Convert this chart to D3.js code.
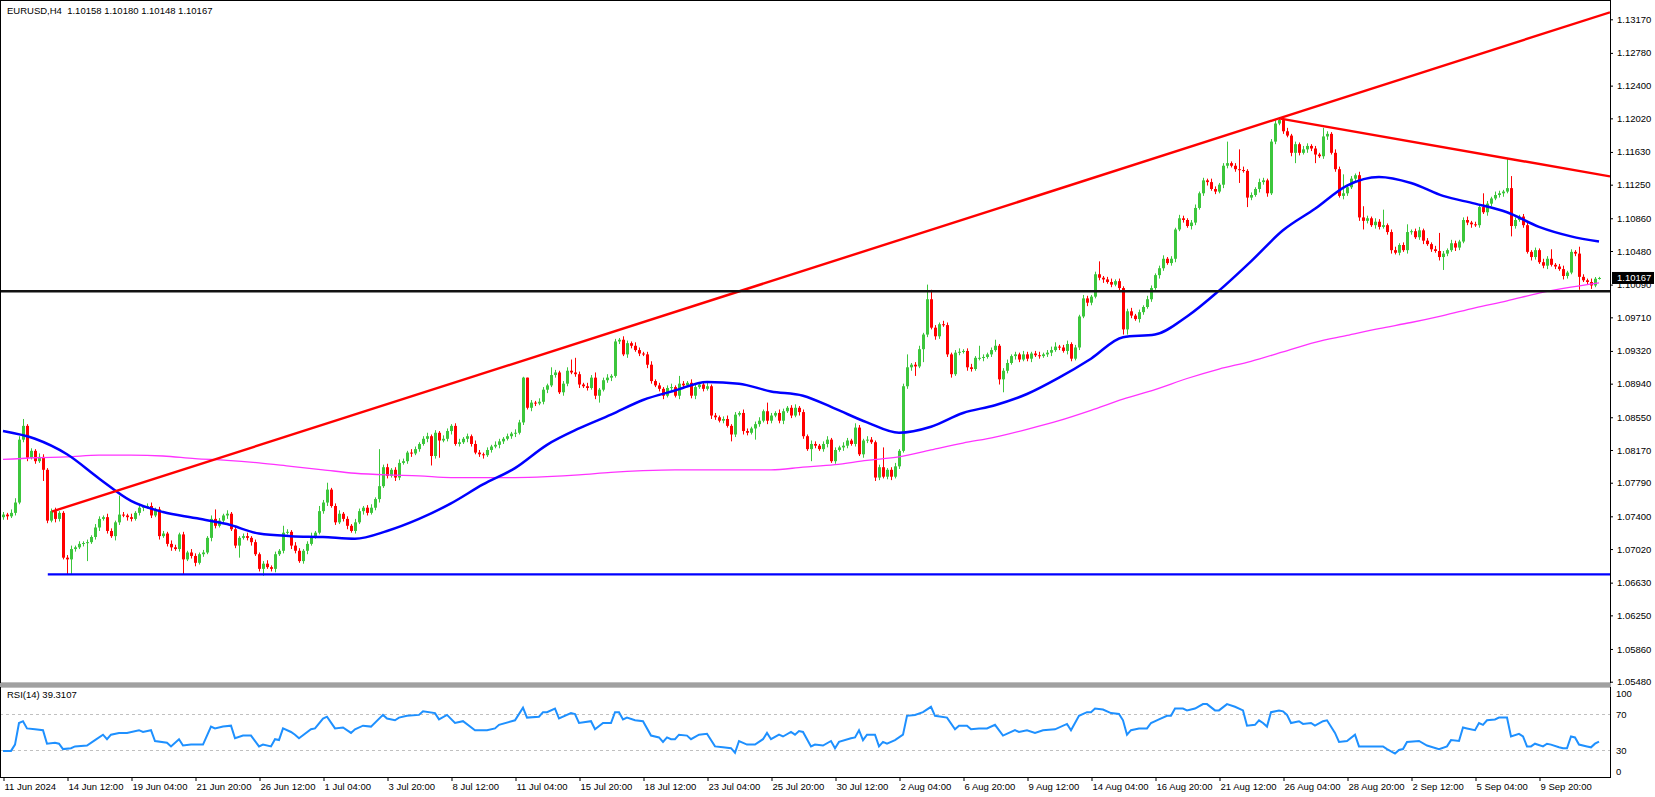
<!DOCTYPE html>
<html>
<head>
<meta charset="utf-8">
<script src="https://cdn.jsdelivr.net/npm/d3@7"></script>
<style>
body { margin: 0; background: #fff; }
svg { display: block; font-family: "Liberation Sans", Arial, sans-serif; }
</style>
</head>
<body>
<div id="chart"></div>
<script>
// EURUSD H4, 11 Jun - 12 Sep 2024. prices kept in pips above 1.0000
var title = "EURUSD,H4  1.10158 1.10180 1.10148 1.10167";
var firstOpen = 739;
var closes = [
  742,740,744,756,829,845,808,816,804,809,794,735,746,737,744,692,690,702,704,708,
  709,710,716,727,737,739,723,717,733,742,741,739,737,744,750,751,752,741,748,717,
  720,708,704,702,719,690,698,694,686,696,698,715,737,729,735,741,743,725,706,715,
  717,715,710,696,679,685,681,679,696,700,721,722,706,700,688,700,708,717,721,746,
  756,771,752,733,743,737,729,723,733,746,750,744,750,760,775,797,787,794,785,802,
  804,814,813,818,824,830,833,810,837,828,830,839,845,824,826,830,833,824,814,812,
  811,817,821,823,827,830,833,836,837,849,901,866,872,871,873,887,892,904,907,884,
  894,909,907,905,893,891,889,901,880,887,898,901,903,943,945,928,941,938,933,929,
  928,916,897,892,888,880,889,890,880,894,892,895,880,890,893,888,891,857,855,851,
  853,845,835,858,860,839,837,842,847,851,862,851,857,860,851,862,866,857,866,861,
  833,818,824,822,818,824,829,804,817,820,822,828,824,843,812,828,829,826,785,797,
  786,794,786,798,816,891,913,916,914,934,951,992,959,949,963,962,928,905,930,931,
  932,913,911,924,924,925,928,933,938,899,909,918,926,928,922,928,923,929,927,926,
  928,930,933,937,936,932,940,923,936,972,993,988,995,1021,1017,1015,1012,1009,1013,1005,
  957,978,973,969,977,983,992,1005,1020,1028,1039,1034,1039,1073,1086,1084,1077,1081,1098,1115,
  1130,1128,1120,1117,1125,1147,1150,1147,1143,1142,1141,1110,1113,1120,1128,1130,1115,1175,1196,1200,
  1187,1182,1162,1172,1162,1166,1170,1167,1160,1158,1181,1184,1162,1143,1112,1115,1122,1132,1136,1087,
  1083,1086,1078,1082,1076,1078,1070,1049,1046,1055,1049,1070,1071,1064,1072,1060,1056,1050,1048,1041,
  1045,1049,1057,1052,1059,1084,1081,1079,1078,1099,1093,1103,1109,1113,1115,1117,1121,1077,1084,1088,
  1078,1047,1041,1049,1035,1031,1039,1032,1030,1027,1019,1023,1047,1045,1018,1014,1012,1008,1015.8,1016.7
];
// upper / lower shadow length of each candle, pips
var wickUp = [
  3,2,4,5,4,8,2,3,2,4,3,2,3,4,2,2,3,4,2,3,
  2,3,2,4,3,2,4,3,2,22,3,2,4,2,3,2,3,4,2,3,
  3,2,4,3,2,3,2,4,3,2,3,2,4,11,3,2,4,2,3,2,
  3,4,2,3,2,3,4,2,3,2,8,3,2,4,3,2,3,4,2,6,
  3,8,2,3,4,2,3,2,4,3,2,3,4,2,43,3,4,2,3,4,
  3,2,4,3,2,3,4,2,3,2,4,3,2,3,4,2,3,2,4,3,
  2,3,2,4,3,2,3,2,4,3,1,0,3,2,4,3,2,9,3,2,
  3,4,13,17,3,2,4,3,6,2,3,4,2,3,2,4,3,2,4,3,
  2,3,4,2,3,2,3,4,2,9,3,2,4,3,2,3,4,2,3,2,
  3,4,2,3,2,4,3,2,3,4,2,10,3,2,4,3,2,3,4,2,
  3,2,4,3,2,3,4,2,3,2,4,3,2,5,3,2,4,3,2,3,
  23,2,3,4,2,3,15,2,3,4,2,17,11,3,2,4,3,2,3,4,
  2,3,4,2,14,3,2,3,7,2,3,4,2,3,2,4,3,2,3,4,
  2,3,4,5,2,3,4,2,3,2,4,3,2,3,15,2,3,4,2,3,
  2,3,4,2,3,2,4,3,2,3,4,2,3,2,4,3,2,3,4,2,
  3,2,4,3,2,3,25,2,3,23,4,2,3,2,4,3,2,3,4,2,
  3,4,2,3,2,4,3,2,3,2,10,3,2,4,3,22,2,3,2,4,
  13,3,2,4,3,18,2,3,4,2,3,9,2,3,4,2,3,2,4,21,
  3,2,4,3,2,3,4,2,3,2,16,3,2,4,3,2,35,14,3,2,
  3,4,2,3,2,4,3,11,2,3,4,2,3,2,8,3,2,4,2,1.3
];
var wickDn = [
  3,4,2,3,2,3,4,2,3,2,13,3,2,4,3,2,18,18,3,2,
  3,21,2,3,4,2,3,2,5,3,2,4,3,2,3,4,2,3,2,4,
  2,3,4,2,3,17,2,3,4,2,3,2,4,3,2,3,4,2,3,14,
  2,3,4,2,3,8,2,3,4,2,3,2,4,3,2,3,4,2,3,2,
  3,4,2,3,2,3,4,2,3,2,4,3,2,3,4,2,3,2,4,3,
  2,3,4,2,3,2,4,11,3,20,2,3,4,2,3,2,4,3,2,3,
  4,2,3,2,4,3,2,3,4,2,3,2,4,3,2,3,4,2,3,2,
  4,3,2,3,4,2,3,2,4,8,2,3,4,2,3,2,4,3,2,3,
  2,4,3,2,3,4,2,3,2,4,3,2,3,4,2,3,2,4,3,2,
  3,2,8,3,2,4,3,2,13,3,2,4,3,2,3,4,2,3,2,4,
  3,2,14,3,2,3,4,2,3,2,4,3,2,3,2,4,3,2,4,3,
  2,3,4,2,3,2,3,4,11,2,15,3,2,4,3,2,3,4,2,3,
  2,4,3,2,3,4,2,3,2,6,15,3,2,4,3,2,3,4,2,3,
  2,3,4,2,3,2,4,3,2,3,2,4,3,2,3,4,2,3,2,4,
  6,6,3,2,4,3,2,3,2,4,3,2,3,4,2,3,2,4,3,2,
  3,4,2,3,2,4,3,2,3,15,2,11,3,2,4,3,4,2,3,2,
  3,2,4,12,3,2,4,3,10,2,3,4,2,3,2,4,3,2,3,4,
  10,3,2,4,3,2,3,4,2,3,2,4,3,2,3,4,2,3,2,4,
  15,3,2,4,3,2,3,4,2,3,2,4,3,2,3,4,2,12,3,2,
  3,2,4,3,2,3,4,2,3,2,4,3,2,3,15,2,3,4,2,1
];

// moving averages read every 8 bars (last point = bar 399)
var maStep = 8;
var blueMA = [839,830,812,784,758,745,738,731,720,717,716,714,723,737,755,777,796,823,842,858,
  875,886,896,894,885,880,865,849,837,844,860,869,882,901,923,948,951,972,1002,1036,
  1072,1097,1124,1134,1127,1112,1103,1093,1076,1065,1059];
var pinkMA = [806,808,809,811,811,810,807,805,802,798,794,790,788,787,785,785,785,786,788,791,
  793,794,794,794,794,797,800,805,809,817,825,832,841,851,863,876,887,900,911,920,
  931,942,950,958,965,973,982,990,999,1006,1011];

// RSI(14): [bar, value]
var rsiPoints = [[0,29],[2,29],[3,36],[4,60],[5,62],[6,54],[8,53],[10,52],[11,37],[13,38],[14,37],[15,31],[17,32],[18,34],
  [21,35],[23,41],[25,47],[26,42],[27,47],[29,49],[31,49],[34,52],[35,50],[37,52],[38,40],[41,38],[42,34],[44,42],[45,35],
  [47,36],[50,36],[52,56],[53,54],[55,56],[57,57],[58,43],[60,46],[62,46],[64,34],[65,36],[67,34],[68,42],[69,41],[70,54],
  [72,50],[73,47],[74,43],[77,53],[78,54],[80,65],[81,67],[83,54],[85,55],[87,49],[88,53],[90,57],[92,56],[95,69],[96,65],
  [98,63],[99,66],[101,68],[104,69],[105,73],[108,71],[109,64],[111,69],[113,60],[115,62],[118,52],[121,52],[123,54],
  [124,58],[128,63],[130,77],[131,66],[134,67],[135,72],[136,72],[138,76],[139,65],[142,71],[143,70],[144,60],[147,62],
  [148,53],[150,60],[152,60],[153,72],[154,72],[155,64],[156,66],[158,63],[160,62],[162,46],[164,44],[165,39],[166,44],
  [167,42],[168,42],[169,47],[171,46],[172,42],[174,47],[176,48],[178,34],[180,33],[182,32],[183,27],[184,40],[186,36],
  [188,36],[190,42],[191,49],[192,42],[194,47],[195,45],[197,50],[198,47],[199,51],[200,50],[202,34],[203,36],[205,35],
  [207,40],[208,32],[209,39],[212,43],[213,44],[214,52],[215,41],[216,47],[218,47],[219,34],[220,39],[221,37],[223,41],
  [225,47],[226,68],[228,69],[230,72],[232,78],[233,68],[236,66],[238,53],[239,57],[241,57],[242,53],[244,54],[246,54],
  [248,58],[250,46],[253,52],[254,50],[256,52],[258,49],[260,52],[263,53],[266,59],[267,52],[269,68],[271,72],[272,72],
  [273,76],[275,75],[277,71],[279,70],[280,63],[281,47],[282,52],[284,54],[286,54],[287,60],[289,64],[291,68],[292,68],
  [293,76],[295,76],[296,74],[298,76],[300,81],[301,81],[303,74],[304,74],[306,81],[308,78],[310,74],[311,57],[313,58],
  [314,63],[315,60],[316,56],[317,72],[319,74],[320,73],[321,69],[322,60],[324,62],[325,59],[327,60],[328,57],[330,62],
  [331,63],[333,49],[334,39],[336,40],[338,47],[339,34],[342,34],[345,34],[346,31],[348,26],[349,30],[350,31],[351,39],
  [354,40],[356,35],[359,31],[361,34],[362,41],[364,40],[365,55],[366,54],[368,52],[369,60],[370,58],[371,63],[373,64],
  [374,66],[376,66],[377,45],[379,48],[380,45],[381,34],[382,34],[383,37],[385,34],[386,37],[387,36],[389,33],[390,32],
  [391,32],[392,45],[393,44],[394,36],[396,34],[397,33],[398,37],[399,39.31]];
var rsiLabel = "RSI(14) 39.3107";

var priceTicks = [1.13170,1.12780,1.12400,1.12020,1.11630,1.11250,1.10860,1.10480,1.10090,1.09710,1.09320,
  1.08940,1.08550,1.08170,1.07790,1.07400,1.07020,1.06630,1.06250,1.05860,1.05480];
var rsiTicks = [100, 70, 30, 0];
var rsiLevels = [70, 30];
var timeLabels = ["11 Jun 2024","14 Jun 12:00","19 Jun 04:00","21 Jun 20:00","26 Jun 12:00","1 Jul 04:00",
  "3 Jul 20:00","8 Jul 12:00","11 Jul 04:00","15 Jul 20:00","18 Jul 12:00","23 Jul 04:00","25 Jul 20:00",
  "30 Jul 12:00","2 Aug 04:00","6 Aug 20:00","9 Aug 12:00","14 Aug 04:00","16 Aug 20:00","21 Aug 12:00",
  "26 Aug 04:00","28 Aug 20:00","2 Sep 12:00","5 Sep 04:00","9 Sep 20:00"];
var barsPerLabel = 16;

// drawn objects: [bar, price]
var trendUp = [[12.2, 1.07455], [319, 1.12020]];
var trendDown = [[319, 1.12020], [376, 1.11556]];
var supportLevel = 1.06727, supportFrom = 11.2;
var keyLevel = 1.10013;
var lastPrice = 1.10167;

var width = 1655, height = 797;
var plotRight = 1610, mainBottom = 683, rsiTop = 687, rsiBottom = 777;

function price(v) { return 1 + v / 10000; }

var x = d3.scaleLinear().domain([0, 399]).range([3, 1599]);
var y = d3.scaleLinear().domain([1.05480, 1.13170]).range([681.7, 19.3]);
var yr = d3.scaleLinear().domain([0, 100]).range([rsiBottom, rsiTop]);

var svg = d3.select("#chart").append("svg")
    .attr("width", width)
    .attr("height", height);

svg.append("rect").attr("width", width).attr("height", height).attr("fill", "#fff");

var defs = svg.append("defs");
defs.append("clipPath").attr("id", "clipMain")
    .append("rect").attr("x", 1).attr("y", 1).attr("width", plotRight - 1).attr("height", mainBottom - 1);
defs.append("clipPath").attr("id", "clipRsi")
    .append("rect").attr("x", 1).attr("y", rsiTop).attr("width", plotRight - 1).attr("height", rsiBottom - rsiTop);

var candles = closes.map(function (c, i) {
    var o = i === 0 ? firstOpen : closes[i - 1];
    return {
        i: i,
        o: price(o),
        c: price(c),
        h: price(Math.max(o, c) + wickUp[i]),
        l: price(Math.min(o, c) - wickDn[i])
    };
});

var main = svg.append("g").attr("clip-path", "url(#clipMain)");

var bull = "#3cc63c", bear = "#ff0000";

// candles
var cg = main.append("g");
cg.selectAll("line.wick")
    .data(candles)
    .enter().append("line")
    .attr("class", "wick")
    .attr("x1", function (d) { return Math.round(x(d.i)) + 0.5; })
    .attr("x2", function (d) { return Math.round(x(d.i)) + 0.5; })
    .attr("y1", function (d) { return y(d.h); })
    .attr("y2", function (d) { return y(d.l); })
    .attr("stroke", function (d) { return d.c >= d.o ? bull : bear; })
    .attr("stroke-width", 1);

cg.selectAll("rect.body")
    .data(candles)
    .enter().append("rect")
    .attr("class", "body")
    .attr("x", function (d) { return Math.round(x(d.i)) - 1; })
    .attr("width", 3)
    .attr("y", function (d) { return y(Math.max(d.o, d.c)); })
    .attr("height", function (d) { return Math.max(1, Math.abs(y(d.o) - y(d.c))); })
    .attr("fill", function (d) { return d.c >= d.o ? bull : bear; });

// moving averages
function maLine(vals) {
    return vals.map(function (v, i) { return [Math.min(i * maStep, 399), price(v)]; });
}
var line = d3.line()
    .x(function (d) { return x(d[0]); })
    .y(function (d) { return y(d[1]); })
    .curve(d3.curveMonotoneX);

main.append("path")
    .attr("d", line(maLine(pinkMA)))
    .attr("fill", "none")
    .attr("stroke", "#ff33ff")
    .attr("stroke-width", 1.3);

main.append("path")
    .attr("d", line(maLine(blueMA)))
    .attr("fill", "none")
    .attr("stroke", "#0000ff")
    .attr("stroke-width", 2.5);

// trend lines, extended to the right edge
var rightBar = x.invert(plotRight);
function ray(pts) {
    var slope = (pts[1][1] - pts[0][1]) / (pts[1][0] - pts[0][0]);
    return [pts[0], [rightBar, pts[0][1] + slope * (rightBar - pts[0][0])]];
}
var straight = d3.line()
    .x(function (d) { return x(d[0]); })
    .y(function (d) { return y(d[1]); });

[trendUp, trendDown].forEach(function (t) {
    main.append("path")
        .attr("d", straight(ray(t)))
        .attr("fill", "none")
        .attr("stroke", "#ff0000")
        .attr("stroke-width", 2.4);
});

main.append("line")
    .attr("x1", x(supportFrom)).attr("x2", plotRight)
    .attr("y1", y(supportLevel)).attr("y2", y(supportLevel))
    .attr("stroke", "#0000ff")
    .attr("stroke-width", 2.2);

main.append("line")
    .attr("x1", 0).attr("x2", plotRight)
    .attr("y1", y(keyLevel)).attr("y2", y(keyLevel))
    .attr("stroke", "#111")
    .attr("stroke-width", 2.4);

// RSI window
var rg = svg.append("g").attr("clip-path", "url(#clipRsi)");
rsiLevels.forEach(function (lv) {
    rg.append("line")
        .attr("x1", 0).attr("x2", plotRight)
        .attr("y1", Math.round(yr(lv)) + 0.5).attr("y2", Math.round(yr(lv)) + 0.5)
        .attr("stroke", "#c0c0c0")
        .attr("stroke-dasharray", "3,3");
});
rg.append("path")
    .attr("d", d3.line()
        .x(function (d) { return x(d[0]); })
        .y(function (d) { return yr(d[1]); })(rsiPoints))
    .attr("fill", "none")
    .attr("stroke", "#1e90ff")
    .attr("stroke-width", 2);

// frame
var frame = svg.append("g").attr("stroke", "#000").attr("fill", "none");
frame.append("line").attr("x1", 0.5).attr("x2", 0.5).attr("y1", 0).attr("y2", rsiBottom);
frame.append("line").attr("x1", 0).attr("x2", plotRight).attr("y1", 0.5).attr("y2", 0.5);
frame.append("line").attr("x1", plotRight + 0.5).attr("x2", plotRight + 0.5).attr("y1", 0).attr("y2", rsiBottom + 1);
frame.append("line").attr("x1", 0).attr("x2", plotRight).attr("y1", rsiBottom + 0.5).attr("y2", rsiBottom + 0.5);
svg.append("rect")
    .attr("x", 0).attr("y", mainBottom).attr("width", plotRight + 1).attr("height", rsiTop - mainBottom)
    .attr("fill", "#a0a0a0");
frame.append("line").attr("x1", 0).attr("x2", plotRight + 1).attr("y1", mainBottom + 0.5).attr("y2", mainBottom + 0.5).attr("stroke-width", 1.5);
frame.append("line").attr("x1", 0).attr("x2", plotRight + 1).attr("y1", rsiTop - 0.5).attr("y2", rsiTop - 0.5).attr("stroke-width", 1.5);

var fontSize = "9.5px";

// price axis
var pAxis = svg.append("g")
    .attr("transform", "translate(" + plotRight + ",0)")
    .call(d3.axisRight(y).tickValues(priceTicks).tickFormat(d3.format(".5f")).tickSize(3).tickPadding(4));
pAxis.select(".domain").remove();
pAxis.selectAll("text").attr("font-size", fontSize).attr("fill", "#000").attr("font-family", "Liberation Sans, Arial, sans-serif");
pAxis.selectAll("line").attr("stroke", "#000");

// RSI axis
var rAxis = svg.append("g")
    .attr("transform", "translate(" + plotRight + ",0)")
    .call(d3.axisRight(yr).tickValues(rsiTicks).tickFormat(d3.format("d")).tickSize(0).tickPadding(6));
rAxis.select(".domain").remove();
rAxis.selectAll("text").attr("font-size", fontSize).attr("fill", "#000").attr("font-family", "Liberation Sans, Arial, sans-serif")
    .attr("dy", function (d) { return d === 100 ? "0.95em" : (d === 0 ? "-0.25em" : "0.32em"); });

// time axis
var tAxis = svg.append("g")
    .attr("transform", "translate(0," + rsiBottom + ")")
    .call(d3.axisBottom(x)
        .tickValues(timeLabels.map(function (t, i) { return i * barsPerLabel; }))
        .tickFormat(function (d, i) { return timeLabels[i]; })
        .tickSize(4).tickPadding(2));
tAxis.select(".domain").remove();
tAxis.selectAll("line").attr("stroke", "#000").attr("transform", "translate(0.5,0)");
tAxis.selectAll("text").attr("font-size", fontSize).attr("fill", "#000").attr("font-family", "Liberation Sans, Arial, sans-serif")
    .attr("text-anchor", "start").attr("x", 1);

// current price marker
svg.append("rect")
    .attr("x", plotRight + 2).attr("y", y(lastPrice) - 6)
    .attr("width", 42).attr("height", 12)
    .attr("fill", "#000");
svg.append("text")
    .attr("x", plotRight + 7).attr("y", y(lastPrice))
    .attr("dy", "0.34em")
    .attr("font-size", fontSize)
    .attr("fill", "#fff")
    .text(d3.format(".5f")(lastPrice));

// labels
svg.append("text")
    .attr("x", 7).attr("y", 14)
    .attr("font-size", fontSize)
    .style("white-space", "pre")
    .text(title);
svg.append("text")
    .attr("x", 7).attr("y", 698)
    .attr("font-size", fontSize)
    .text(rsiLabel);
</script>
</body>
</html>
